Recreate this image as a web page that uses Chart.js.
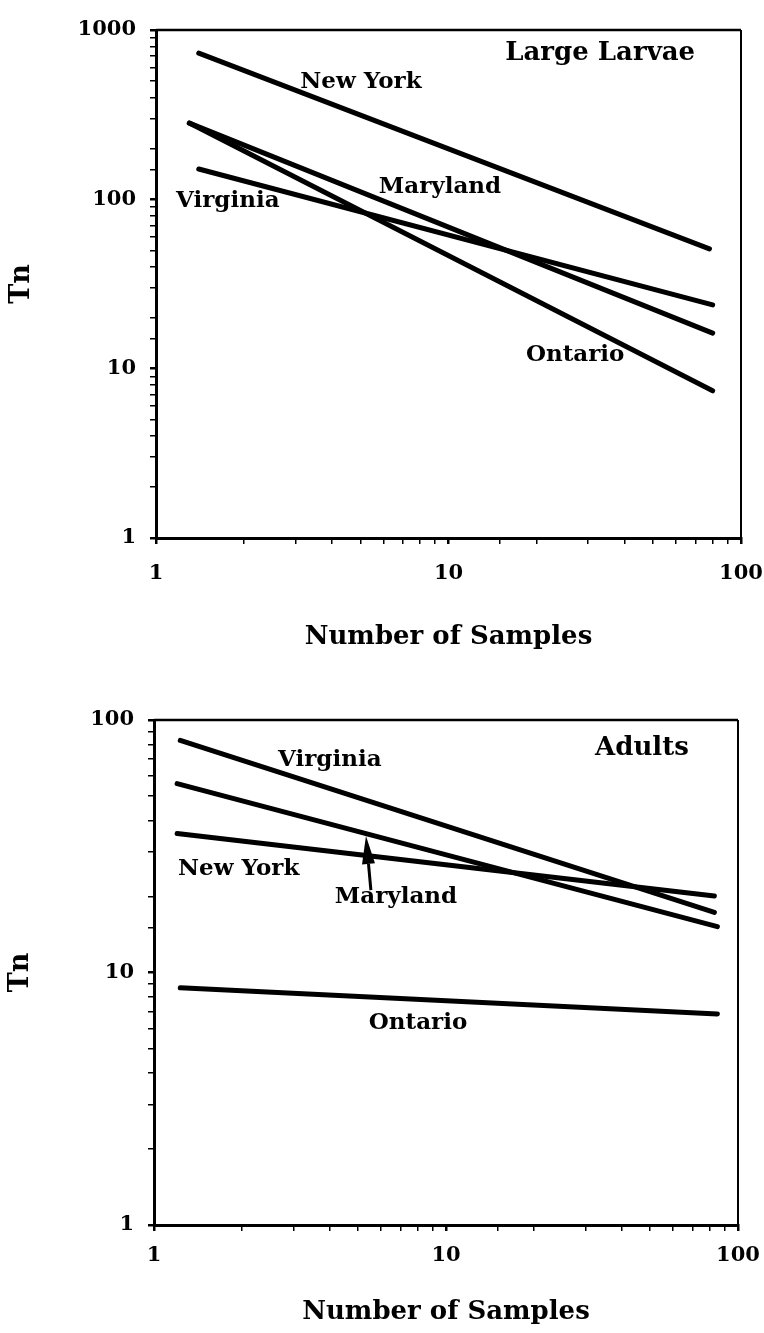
<!DOCTYPE html>
<html>
<head>
<meta charset="utf-8">
<script src="https://cdn.jsdelivr.net/npm/chart.js@4.4.1/dist/chart.umd.min.js"></script>
<style>
  html, body { margin: 0; padding: 0; background: #ffffff; }
  #wrap { position: relative; width: 764px; height: 1333px; background: #ffffff; }
  canvas { position: absolute; left: 0; }
</style>
</head>
<body>
<div id="wrap">
  <canvas id="larvae" width="764" height="680" style="top:0px"></canvas>
  <canvas id="adults" width="764" height="653" style="top:680px"></canvas>
</div>
<script>
// ---------- data ----------
const xTickLabels = [1, 10, 100];
const larvaeYTickLabels = [1, 10, 100, 1000];
const adultsYTickLabels = [1, 10, 100];

// Large Larvae panel
const larvaeNewYorkX = [1.4, 78];
const larvaeNewYorkY = [730, 51];
const larvaeMarylandX = [1.3, 80];
const larvaeMarylandY = [282, 16.2];
const larvaeOntarioX = [1.3, 80];
const larvaeOntarioY = [282, 7.4];
const larvaeVirginiaX = [1.4, 80];
const larvaeVirginiaY = [151, 23.8];

// Adults panel
const adultsVirginiaX = [1.23, 83];
const adultsVirginiaY = [83, 17.3];
const adultsMarylandX = [1.2, 85];
const adultsMarylandY = [56, 15.2];
const adultsNewYorkX = [1.2, 83];
const adultsNewYorkY = [35.5, 20.1];
const adultsOntarioX = [1.23, 85];
const adultsOntarioY = [8.7, 6.85];

// ---------- text annotations (data-space anchors) ----------
const larvaeNotes = [
  { text: 'Large Larvae', x: 33.0, y: 731, size: 26 },
  { text: 'New York', x: 5.02, y: 493, size: 23 },
  { text: 'Maryland', x: 9.35, y: 118, size: 23 },
  { text: 'Virginia', x: 1.76, y: 97.7, size: 23 },
  { text: 'Ontario', x: 27.1, y: 12.0, size: 23 }
];
const adultsNotes = [
  { text: 'Adults', x: 46.9, y: 77.5, size: 26 },
  { text: 'Virginia', x: 4.0, y: 69.4, size: 23 },
  { text: 'New York', x: 1.95, y: 25.7, size: 23 },
  { text: 'Maryland', x: 6.74, y: 19.9, size: 23 },
  { text: 'Ontario', x: 8.02, y: 6.3, size: 23 }
];
const adultsArrow = { fromX: 5.53, fromY: 21.2, toX: 5.32, toY: 34.7 };

// ---------- helpers ----------
const FONT = 'DejaVu Serif';
function pts(xs, ys) { return xs.map((x, i) => ({ x: x, y: ys[i] })); }
function series(label, xs, ys) {
  return {
    label: label,
    data: pts(xs, ys),
    borderColor: '#000',
    backgroundColor: '#000',
    borderWidth: 5,
    borderCapStyle: 'round',
    pointRadius: 0,
    showLine: true,
    tension: 0
  };
}

const frameAndNotes = {
  id: 'frameAndNotes',
  afterDraw(chart, args, opts) {
    const ctx = chart.ctx;
    const a = chart.chartArea;
    const xs = chart.scales.x, ys = chart.scales.y;
    ctx.save();
    // top and right frame edges
    ctx.strokeStyle = '#000';
    ctx.lineWidth = 2.5;
    ctx.beginPath();
    ctx.moveTo(a.left, a.top);
    ctx.lineTo(a.right, a.top);
    ctx.stroke();
    ctx.lineWidth = 2;
    ctx.beginPath();
    ctx.moveTo(a.right, a.top);
    ctx.lineTo(a.right, a.bottom);
    ctx.stroke();
    // notes
    ctx.fillStyle = '#000';
    ctx.textAlign = 'center';
    ctx.textBaseline = 'middle';
    (opts.notes || []).forEach(n => {
      ctx.font = 'bold ' + n.size + 'px "' + FONT + '"';
      ctx.fillText(n.text, xs.getPixelForValue(n.x), ys.getPixelForValue(n.y));
    });
    // arrow
    if (opts.arrow) {
      const ar = opts.arrow;
      const x0 = xs.getPixelForValue(ar.fromX), y0 = ys.getPixelForValue(ar.fromY);
      const x1 = xs.getPixelForValue(ar.toX), y1 = ys.getPixelForValue(ar.toY);
      const ang = Math.atan2(y1 - y0, x1 - x0);
      const headLen = 28, headHalf = 6.5;
      const bx = x1 - headLen * Math.cos(ang), by = y1 - headLen * Math.sin(ang);
      ctx.lineWidth = 3;
      ctx.beginPath();
      ctx.moveTo(x0, y0);
      ctx.lineTo(bx, by);
      ctx.stroke();
      ctx.beginPath();
      ctx.moveTo(x1, y1);
      ctx.lineTo(bx + headHalf * Math.sin(ang), by - headHalf * Math.cos(ang));
      ctx.lineTo(bx - headHalf * Math.sin(ang), by + headHalf * Math.cos(ang));
      ctx.closePath();
      ctx.fill();
    }
    ctx.restore();
  }
};

function makeChart(id, cfg) {
  return new Chart(document.getElementById(id), {
    type: 'scatter',
    data: { datasets: cfg.datasets },
    options: {
      responsive: false,
      animation: false,
      events: [],
      layout: { padding: { left: 0, top: cfg.top, right: cfg.right, bottom: 0 } },
      plugins: {
        legend: { display: false },
        tooltip: { enabled: false },
        frameAndNotes: { notes: cfg.notes, arrow: cfg.arrow }
      },
      scales: {
        x: {
          type: 'logarithmic',
          min: 1, max: 100,
          afterFit(s) { s.height = cfg.xHeight; },
          border: { display: true, color: '#000', width: 3 },
          grid: {
            drawOnChartArea: false, drawTicks: true, tickLength: 6,
            color: '#000',
            lineWidth: c => (c.tick && c.tick.major ? 2.5 : 1.5)
          },
          ticks: {
            autoSkip: false, maxRotation: 0, padding: 0,
            color: '#000',
            font: { family: FONT, weight: 'bold', size: 21, lineHeight: cfg.xTickLH },
            callback: v => (xTickLabels.includes(v) ? String(v) : '')
          },
          title: {
            display: true, text: 'Number of Samples', color: '#000',
            font: { family: FONT, weight: 'bold', size: 26 },
            padding: { top: 0, bottom: cfg.xTitlePad }
          }
        },
        y: {
          type: 'logarithmic',
          min: 1, max: cfg.yMax,
          afterFit(s) { s.width = cfg.left; },
          border: { display: true, color: '#000', width: 3 },
          grid: {
            drawOnChartArea: false, drawTicks: true, tickLength: 6,
            color: '#000',
            lineWidth: c => (c.tick && c.tick.major ? 2.5 : 1.5)
          },
          ticks: {
            autoSkip: false, padding: 14,
            color: '#000',
            font: { family: FONT, weight: 'bold', size: 21 },
            callback: v => (cfg.yLabels.includes(v) ? String(v) : '')
          },
          title: {
            display: true, text: 'Tn', color: '#000',
            font: { family: FONT, weight: 'bold', size: 27 },
            padding: { top: cfg.yTitlePad, bottom: 0 }
          }
        }
      }
    },
    plugins: [frameAndNotes]
  });
}

makeChart('larvae', {
  datasets: [
    series('New York', larvaeNewYorkX, larvaeNewYorkY),
    series('Maryland', larvaeMarylandX, larvaeMarylandY),
    series('Ontario', larvaeOntarioX, larvaeOntarioY),
    series('Virginia', larvaeVirginiaX, larvaeVirginiaY)
  ],
  notes: larvaeNotes,
  top: 30, right: 23, left: 156, xHeight: 142,
  xTickLH: 59 / 21, xTitlePad: 27, yTitlePad: 6,
  yMax: 1000, yLabels: larvaeYTickLabels
});

makeChart('adults', {
  datasets: [
    series('Virginia', adultsVirginiaX, adultsVirginiaY),
    series('Maryland', adultsMarylandX, adultsMarylandY),
    series('New York', adultsNewYorkX, adultsNewYorkY),
    series('Ontario', adultsOntarioX, adultsOntarioY)
  ],
  notes: adultsNotes,
  arrow: adultsArrow,
  top: 40, right: 26, left: 154, xHeight: 108,
  xTickLH: 50 / 21, xTitlePad: 5, yTitlePad: 5,
  yMax: 100, yLabels: adultsYTickLabels
});
</script>
</body>
</html>
